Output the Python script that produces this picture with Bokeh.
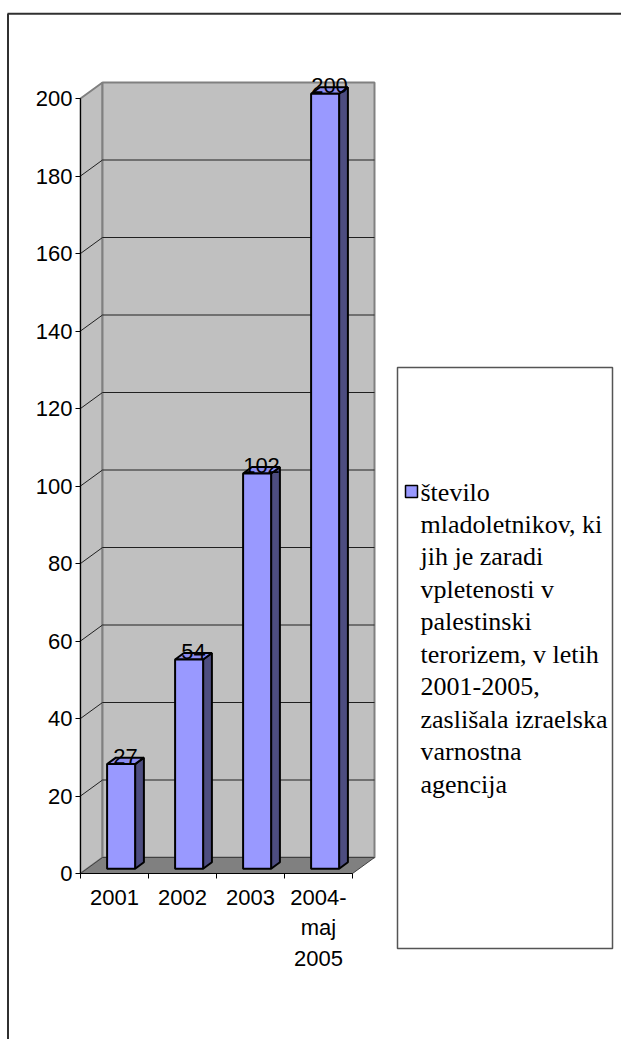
from bokeh.plotting import figure
from bokeh.models import Range1d, FixedTicker
from bokeh.core.properties import value
from bokeh.embed import file_html
from bokeh.resources import INLINE

# ---------------- data ----------------
categories = ["2001", "2002", "2003", "2004-\nmaj\n2005"]
counts = [27, 54, 102, 200]
y_ticks = [0, 20, 40, 60, 80, 100, 120, 140, 160, 180, 200]
legend_label = ("število\nmladoletnikov, ki\njih je zaradi\nvpletenosti v\npalestinski\n"
                "terorizem, v letih\n2001-2005,\nzaslišala izraelska\nvarnostna\nagencija")

# ---------------- layout ----------------
W, H = 621, 1039
X0_PX, PX_PER_CAT = 80, 68.0      # pixel of category origin, px per category
Y0_PX, PX_PER_UNIT = 873, 3.875   # pixel of value 0, px per value unit


def ux(px):
    return (px - X0_PX) / PX_PER_CAT


def vy(py):
    return (Y0_PX - py) / PX_PER_UNIT


N = len(categories)
VMAX = y_ticks[-1]
DX, DY = 22 / PX_PER_CAT, 16 / PX_PER_UNIT      # 3-D depth of the chart box
BW = 28 / PX_PER_CAT                             # bar width
F1, BD = 0.3, 0.4                                # bar front depth, bar depth fraction

p = figure(width=W, height=H, x_range=Range1d(ux(0), ux(W)), y_range=Range1d(vy(H), vy(0)),
           output_backend="svg", toolbar_location=None, min_border=0,
           background_fill_color="white", border_fill_color="white")
p.outline_line_color = None
p.grid.visible = False

FONT = "Liberation Sans"

# walls and floor
p.patches(xs=[[0, DX, DX, 0], [DX, N + DX, N + DX, DX]],
          ys=[[0, DY, VMAX + DY, VMAX], [DY, DY, VMAX + DY, VMAX + DY]],
          fill_color="#c0c0c0", line_color="#808080", line_width=2)

grid_xs, grid_ys = [], []
for t in y_ticks[1:-1]:
    grid_xs.append([0, DX, N + DX])
    grid_ys.append([t, t + DY, t + DY])
p.multi_line(xs=grid_xs, ys=grid_ys, line_color="#202020", line_width=1)

p.patch(x=[0, N, N + DX, DX], y=[0, 0, DY, DY], fill_color="#808080",
        line_color="#404040", line_width=1)

# bars
front_xs, front_ys, side_xs, side_ys, top_xs, top_ys = [], [], [], [], [], []
lab_x, lab_y, lab_t = [], [], []
ddx, ddy = BD * DX, BD * DY
for i, c in enumerate(counts):
    xc = i + 0.5 + F1 * DX
    xl, xr = xc - BW / 2, xc + BW / 2
    yb, yt = F1 * DY, c + F1 * DY
    front_xs.append([xl, xr, xr, xl]); front_ys.append([yb, yb, yt, yt])
    side_xs.append([xr, xr + ddx, xr + ddx, xr]); side_ys.append([yb, yb + ddy, yt + ddy, yt])
    top_xs.append([xl, xr, xr + ddx, xl + ddx]); top_ys.append([yt, yt, yt + ddy, yt + ddy])
    lab_x.append(xc + ddx / 2); lab_y.append(yt + 8 / PX_PER_UNIT); lab_t.append(str(c))

p.patches(xs=side_xs, ys=side_ys, fill_color="#4d4d80", line_color="black", line_width=2)
p.patches(xs=top_xs, ys=top_ys, fill_color="#8c8cf2", line_color="black", line_width=2)
p.patches(xs=front_xs, ys=front_ys, fill_color="#9999ff", line_color="black", line_width=2)

p.text(x=lab_x, y=lab_y, text=lab_t, text_font=value(FONT), text_font_size="22px",
       text_align="center", text_baseline="alphabetic", text_color="black")

# axes
xa = p.xaxis[0]
xa.ticker = FixedTicker(ticks=[i + 0.5 for i in range(N)], minor_ticks=list(range(N + 1)))
xa.major_label_overrides = {i + 0.5: c for i, c in enumerate(categories)}
xa.bounds = (0, N)
xa.fixed_location = 0
xa.axis_line_color = "black"
xa.major_tick_line_color = None
xa.major_tick_out = 0
xa.major_tick_in = 0
xa.minor_tick_line_color = "black"
xa.minor_tick_out = 5
xa.minor_tick_in = 0
xa.major_label_standoff = 6
xa.major_label_text_font = FONT
xa.major_label_text_font_size = "22px"
xa.major_label_text_color = "black"
xa.major_label_text_line_height = 1.22

ya = p.yaxis[0]
ya.ticker = FixedTicker(ticks=y_ticks, minor_ticks=[])
ya.bounds = (0, VMAX)
ya.fixed_location = 0
ya.axis_line_color = "black"
ya.major_tick_line_color = "black"
ya.major_tick_out = 5
ya.major_tick_in = 0
ya.minor_tick_line_color = None
ya.major_label_standoff = 3
ya.major_label_text_font = FONT
ya.major_label_text_font_size = "22px"
ya.major_label_text_color = "black"

# legend box (drawn)
p.quad(left=[ux(397)], right=[ux(612)], top=[vy(367)], bottom=[vy(948)],
       fill_color="white", line_color="#555555", line_width=1.5)
p.rect(x=[ux(411)], y=[vy(491)], width=12, height=12, width_units="screen",
       height_units="screen", fill_color="#9999ff", line_color="black", line_width=1.5)
p.text(x=[ux(420)], y=[vy(477)], text=[legend_label], text_font=value("Liberation Serif"),
       text_font_size="26px", text_align="left", text_baseline="top",
       text_line_height=1.12, text_color="black")

# outer frame border (top and left)
p.segment(x0=[ux(7), ux(7.5)], y0=[vy(13.3), vy(13.3)], x1=[ux(W), ux(7.5)], y1=[vy(13.3), vy(H)],
          line_color="#303030", line_width=2)

open("out.html", "w").write(file_html(p, INLINE))
